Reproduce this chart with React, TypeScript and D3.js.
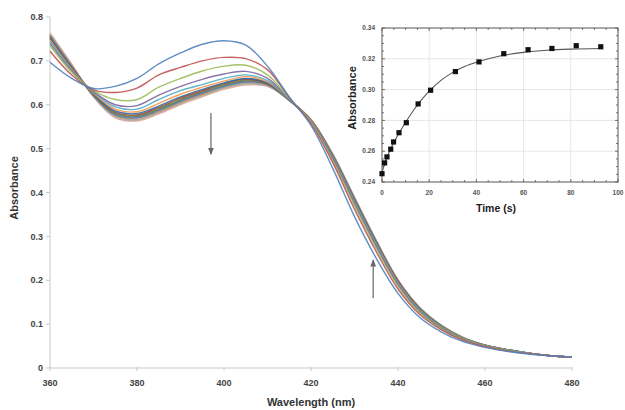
import React from "react";
import * as d3 from "d3";

const wavelengths = [360, 365, 370, 375, 380, 385, 390, 395, 400, 405, 410, 415, 420, 425, 430, 435, 440, 445, 450, 455, 460, 465, 470, 475, 480];

const s01 = [0.697, 0.660, 0.637, 0.642, 0.660, 0.693, 0.718, 0.738, 0.746, 0.736, 0.688, 0.618, 0.553, 0.455, 0.345, 0.250, 0.170, 0.115, 0.082, 0.060, 0.047, 0.038, 0.032, 0.028, 0.025];
const s02 = [0.722, 0.668, 0.634, 0.628, 0.638, 0.668, 0.685, 0.700, 0.708, 0.705, 0.680, 0.616, 0.557, 0.468, 0.362, 0.265, 0.180, 0.122, 0.087, 0.063, 0.049, 0.039, 0.033, 0.028, 0.025];
const s03 = [0.735, 0.674, 0.632, 0.612, 0.612, 0.640, 0.660, 0.677, 0.688, 0.690, 0.668, 0.614, 0.560, 0.473, 0.370, 0.272, 0.186, 0.126, 0.089, 0.064, 0.050, 0.040, 0.033, 0.028, 0.025];
const s04 = [0.740, 0.677, 0.630, 0.600, 0.598, 0.622, 0.642, 0.658, 0.670, 0.676, 0.660, 0.613, 0.561, 0.477, 0.375, 0.277, 0.190, 0.129, 0.091, 0.065, 0.050, 0.040, 0.033, 0.028, 0.025];
const s05 = [0.745, 0.679, 0.628, 0.595, 0.590, 0.612, 0.632, 0.646, 0.660, 0.668, 0.655, 0.612, 0.562, 0.479, 0.378, 0.280, 0.192, 0.131, 0.092, 0.066, 0.051, 0.041, 0.034, 0.028, 0.025];
const s06 = [0.748, 0.681, 0.626, 0.590, 0.584, 0.603, 0.624, 0.640, 0.654, 0.664, 0.652, 0.612, 0.563, 0.480, 0.380, 0.282, 0.194, 0.132, 0.093, 0.067, 0.051, 0.041, 0.034, 0.028, 0.025];
const s07 = [0.750, 0.683, 0.625, 0.586, 0.580, 0.597, 0.618, 0.635, 0.650, 0.660, 0.650, 0.611, 0.563, 0.481, 0.382, 0.284, 0.195, 0.133, 0.094, 0.067, 0.051, 0.041, 0.034, 0.028, 0.025];
const s08 = [0.752, 0.684, 0.624, 0.583, 0.577, 0.594, 0.615, 0.632, 0.648, 0.658, 0.649, 0.611, 0.564, 0.482, 0.383, 0.285, 0.196, 0.134, 0.094, 0.067, 0.051, 0.041, 0.034, 0.028, 0.025];
const s09 = [0.754, 0.685, 0.623, 0.581, 0.575, 0.591, 0.612, 0.630, 0.646, 0.656, 0.648, 0.611, 0.564, 0.483, 0.384, 0.286, 0.197, 0.135, 0.095, 0.068, 0.052, 0.041, 0.034, 0.028, 0.025];
const s10 = [0.756, 0.686, 0.622, 0.579, 0.573, 0.589, 0.610, 0.628, 0.644, 0.654, 0.647, 0.611, 0.564, 0.484, 0.385, 0.287, 0.198, 0.135, 0.095, 0.068, 0.052, 0.042, 0.034, 0.028, 0.025];
const s11 = [0.757, 0.687, 0.621, 0.577, 0.571, 0.587, 0.608, 0.626, 0.642, 0.652, 0.646, 0.610, 0.565, 0.485, 0.386, 0.288, 0.198, 0.136, 0.096, 0.068, 0.052, 0.042, 0.034, 0.028, 0.025];
const s12 = [0.758, 0.688, 0.621, 0.576, 0.570, 0.585, 0.606, 0.624, 0.641, 0.651, 0.645, 0.610, 0.565, 0.485, 0.386, 0.288, 0.199, 0.136, 0.096, 0.068, 0.052, 0.042, 0.034, 0.028, 0.025];
const s13 = [0.759, 0.689, 0.620, 0.575, 0.568, 0.584, 0.605, 0.623, 0.640, 0.650, 0.645, 0.610, 0.565, 0.486, 0.387, 0.289, 0.199, 0.137, 0.096, 0.069, 0.052, 0.042, 0.034, 0.028, 0.025];
const s14 = [0.760, 0.690, 0.620, 0.574, 0.567, 0.583, 0.604, 0.622, 0.639, 0.649, 0.644, 0.610, 0.566, 0.486, 0.387, 0.289, 0.200, 0.137, 0.096, 0.069, 0.052, 0.042, 0.034, 0.028, 0.025];
const s15 = [0.761, 0.690, 0.619, 0.573, 0.566, 0.582, 0.603, 0.621, 0.638, 0.648, 0.644, 0.610, 0.566, 0.487, 0.388, 0.290, 0.200, 0.137, 0.097, 0.069, 0.052, 0.042, 0.034, 0.028, 0.025];
const s16 = [0.762, 0.691, 0.619, 0.572, 0.565, 0.581, 0.602, 0.620, 0.637, 0.647, 0.643, 0.610, 0.566, 0.487, 0.388, 0.290, 0.200, 0.138, 0.097, 0.069, 0.052, 0.042, 0.034, 0.028, 0.025];
const s17 = [0.763, 0.692, 0.618, 0.571, 0.564, 0.580, 0.601, 0.619, 0.636, 0.646, 0.643, 0.610, 0.566, 0.488, 0.389, 0.291, 0.201, 0.138, 0.097, 0.069, 0.052, 0.042, 0.034, 0.028, 0.025];
const s18 = [0.764, 0.692, 0.618, 0.570, 0.563, 0.579, 0.600, 0.618, 0.635, 0.645, 0.642, 0.610, 0.566, 0.488, 0.389, 0.291, 0.201, 0.138, 0.097, 0.069, 0.052, 0.042, 0.034, 0.028, 0.025];

const spectra = [s01, s02, s03, s04, s05, s06, s07, s08, s09, s10, s11, s12, s13, s14, s15, s16, s17, s18];
const spectraColors = [
  "#4F81BD", "#C0504D", "#9BBB59", "#8064A2", "#4BACC6", "#F79646",
  "#2C6DA0", "#A8403D", "#5F9A40", "#7A5A9A", "#3A9AB0", "#E08A40",
  "#8FB0D8", "#D88F8D", "#B7CF8E", "#B3A3C9", "#F5B08A", "#E2B8B6",
];

const yTicks = [0, 0.1, 0.2, 0.3, 0.4, 0.5, 0.6, 0.7, 0.8];
const xTicks = [360, 380, 400, 420, 440, 460, 480];

// inset kinetics
const times = [0, 1.1, 2.1, 3.7, 4.9, 7.2, 10.3, 15.3, 20.6, 31.1, 41.1, 51.6, 61.9, 72, 82.3, 92.7];
const kinAbs = [0.2454, 0.2524, 0.2563, 0.2613, 0.266, 0.272, 0.2785, 0.2907, 0.2996, 0.3117, 0.318, 0.3233, 0.3259, 0.3267, 0.3285, 0.3278];
const fitTimes = [0, 2, 5, 10, 15, 20, 25, 30, 35, 40, 50, 60, 70, 80, 92.7];
const fitAbs = [0.2462, 0.2555, 0.2655, 0.2787, 0.2900, 0.2990, 0.3060, 0.3112, 0.3150, 0.3178, 0.3218, 0.3242, 0.3256, 0.3263, 0.3267];
const insetXTicks = [0, 20, 40, 60, 80, 100];
const insetYTicks = [0.24, 0.26, 0.28, 0.3, 0.32, 0.34];

const FONT = "'Liberation Sans', Arial, sans-serif";

export default function App() {
  const x = d3.scaleLinear().domain([360, 480]).range([50, 572]);
  const y = d3.scaleLinear().domain([0, 0.8]).range([368, 17]);
  const xi = d3.scaleLinear().domain([0, 100]).range([382, 618]);
  const yi = d3.scaleLinear().domain([0.24, 0.34]).range([182, 28]);

  const line = d3
    .line<number>()
    .x((_, i) => x(wavelengths[i]))
    .y((v) => y(v))
    .curve(d3.curveCatmullRom.alpha(0.5));

  const fitLine = d3
    .line<number>()
    .x((_, i) => xi(fitTimes[i]))
    .y((v) => yi(v))
    .curve(d3.curveMonotoneX);

  const minorX = d3.range(0, 101, 5);
  const minorY = d3.range(0.24, 0.3401, 0.005);

  const drawOrder = spectra.map((_, i) => i).reverse();

  return (
    <svg width={625} height={410} style={{ position: "absolute", left: 0, top: 0, background: "#fff" }} fontFamily={FONT}>
      <rect x={0} y={0} width={625} height={410} fill="#fff" />
      {/* main axes */}
      <line x1={50} x2={50} y1={y(0.8)} y2={y(0)} stroke="#c8c8c8" strokeWidth={1} />
      <line x1={50} x2={572} y1={y(0)} y2={y(0)} stroke="#c8c8c8" strokeWidth={1} />
      {yTicks.map((t) => (
        <g key={"yt" + t}>
          <line x1={46} x2={50} y1={y(t)} y2={y(t)} stroke="#c8c8c8" />
          <text x={43} y={y(t)} dy="0.35em" textAnchor="end" fontSize={9} fontWeight="bold" fill="#444">
            {t === 0 ? "0" : t.toFixed(1)}
          </text>
        </g>
      ))}
      {xTicks.map((t) => (
        <g key={"xt" + t}>
          <line x1={x(t)} x2={x(t)} y1={y(0) - 1} y2={y(0) + 3} stroke="#c8c8c8" />
          <text x={x(t)} y={386} textAnchor="middle" fontSize={9} fontWeight="bold" fill="#444">
            {t}
          </text>
        </g>
      ))}
      <text x={311} y={406} textAnchor="middle" fontSize={11} fontWeight="bold" fill="#333">
        Wavelength (nm)
      </text>
      <text transform="translate(18,188) rotate(-90)" textAnchor="middle" fontSize={11} fontWeight="bold" fill="#333">
        Absorbance
      </text>

      {/* spectra */}
      {drawOrder.map((i) => (
        <path key={"s" + i} d={line(spectra[i]) || ""} fill="none" stroke={spectraColors[i]} strokeWidth={1.4} strokeOpacity={0.9} />
      ))}

      {/* arrows */}
      <defs>
        <marker id="ah" viewBox="0 0 10 10" refX={9} refY={5} markerWidth={6} markerHeight={6} orient="auto">
          <path d="M0,1 L10,5 L0,9 z" fill="#666" />
        </marker>
      </defs>
      <line x1={x(397)} x2={x(397)} y1={y(0.581)} y2={y(0.487)} stroke="#666" strokeWidth={1.2} markerEnd="url(#ah)" />
      <line x1={x(434.3)} x2={x(434.3)} y1={y(0.159)} y2={y(0.246)} stroke="#666" strokeWidth={1.2} markerEnd="url(#ah)" />

      {/* inset */}
      <g>
        {insetXTicks.slice(1, -1).map((t) => (
          <line key={"gx" + t} x1={xi(t)} x2={xi(t)} y1={28} y2={182} stroke="#e6e6e6" />
        ))}
        {insetYTicks.slice(1, -1).map((t) => (
          <line key={"gy" + t} x1={382} x2={618} y1={yi(t)} y2={yi(t)} stroke="#e6e6e6" />
        ))}
        {minorX.map((t) => {
          const len = t % 20 === 0 ? 3 : 2;
          return (
            <g key={"mx" + t}>
              <line x1={xi(t)} x2={xi(t)} y1={182} y2={182 - len} stroke="#555" strokeWidth={0.8} />
              <line x1={xi(t)} x2={xi(t)} y1={28} y2={28 + len} stroke="#555" strokeWidth={0.8} />
            </g>
          );
        })}
        {minorY.map((t, k) => {
          const len = k % 4 === 0 ? 3 : 2;
          return (
            <g key={"my" + k}>
              <line x1={382} x2={382 + len} y1={yi(t)} y2={yi(t)} stroke="#555" strokeWidth={0.8} />
              <line x1={618} x2={618 - len} y1={yi(t)} y2={yi(t)} stroke="#555" strokeWidth={0.8} />
            </g>
          );
        })}
        <rect x={382} y={28} width={236} height={154} fill="none" stroke="#555" strokeWidth={1} />
        {insetXTicks.map((t) => (
          <text key={"ixl" + t} x={xi(t)} y={195} textAnchor="middle" fontSize={6.5} fontWeight="bold" fill="#555">
            {t}
          </text>
        ))}
        {insetYTicks.map((t) => (
          <text key={"iyl" + t} x={375} y={yi(t)} dy="0.35em" textAnchor="end" fontSize={6.5} fontWeight="bold" fill="#555">
            {t.toFixed(2)}
          </text>
        ))}
        <path d={fitLine(fitAbs) || ""} fill="none" stroke="#555" strokeWidth={1.1} />
        {times.map((t, i) => (
          <rect key={"pt" + i} x={xi(t) - 2.6} y={yi(kinAbs[i]) - 2.6} width={5.2} height={5.2} fill="#111" />
        ))}
        <text x={496} y={212} textAnchor="middle" fontSize={10.5} fontWeight="bold" fill="#222">
          Time (s)
        </text>
        <text transform="translate(356,98) rotate(-90)" textAnchor="middle" fontSize={11} fontWeight="bold" fill="#222">
          Absorbance
        </text>
      </g>
    </svg>
  );
}
